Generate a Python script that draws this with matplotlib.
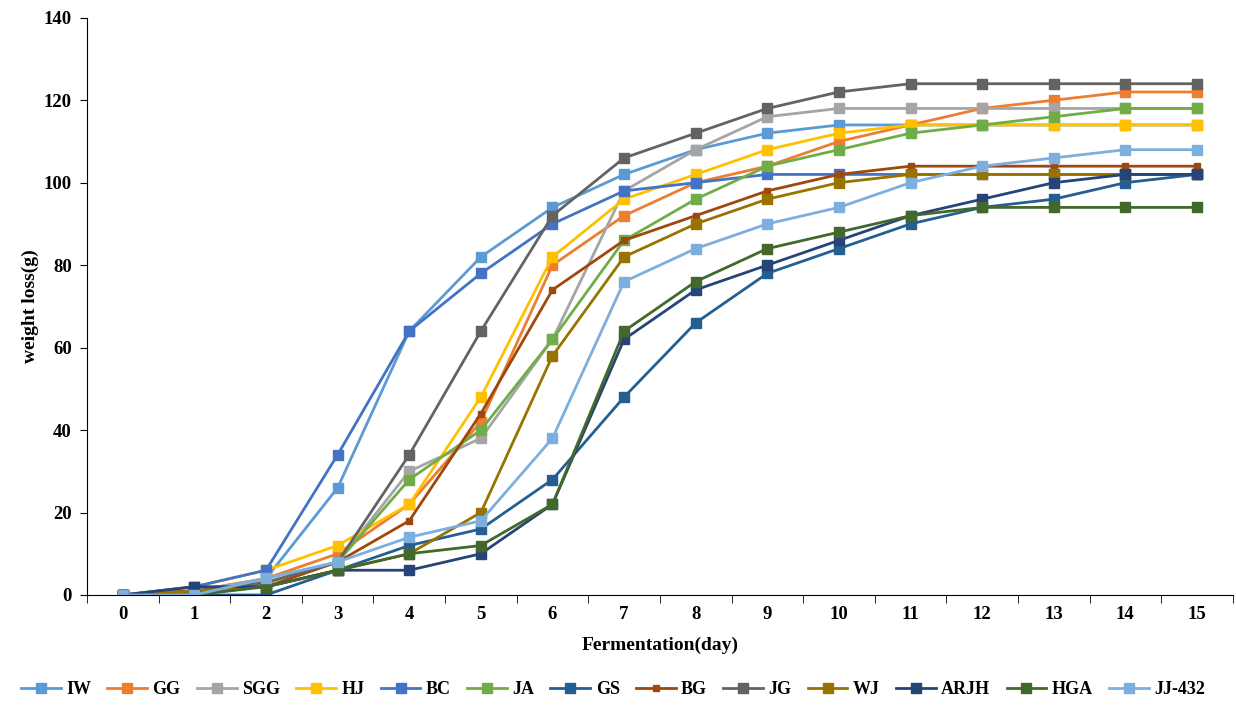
import numpy as np
import matplotlib
matplotlib.use('Agg')
import matplotlib.pyplot as plt

days = list(range(16))

names = ['IW', 'GG', 'SGG', 'HJ', 'BC', 'JA', 'GS', 'BG', 'JG', 'WJ', 'ARJH', 'HGA', 'JJ-432']
colors = ['#5B9BD5', '#ED7D31', '#A5A5A5', '#FFC000', '#4472C4', '#70AD47', '#255E91',
          '#9E480E', '#636363', '#997300', '#264478', '#43682B', '#7CAFDD']

iw = [0, 0, 4, 26, 64, 82, 94, 102, 108, 112, 114, 114, 114, 114, 114, 114]
gg = [0, 1, 4, 10, 22, 42, 80, 92, 100, 104, 110, 114, 118, 120, 122, 122]
sgg = [0, 1, 4, 8, 30, 38, 62, 98, 108, 116, 118, 118, 118, 118, 118, 118]
hj = [0, 2, 6, 12, 22, 48, 82, 96, 102, 108, 112, 114, 114, 114, 114, 114]
bc = [0, 2, 6, 34, 64, 78, 90, 98, 100, 102, 102, 102, 102, 102, 102, 102]
ja = [0, 0, 3, 8, 28, 40, 62, 86, 96, 104, 108, 112, 114, 116, 118, 118]
gs = [0, 0, 0, 6, 12, 16, 28, 48, 66, 78, 84, 90, 94, 96, 100, 102]
bg = [0, 1, 2, 8, 18, 44, 74, 86, 92, 98, 102, 104, 104, 104, 104, 104]
jg = [0, 1, 3, 8, 34, 64, 92, 106, 112, 118, 122, 124, 124, 124, 124, 124]
wj = [0, 1, 2, 6, 10, 20, 58, 82, 90, 96, 100, 102, 102, 102, 102, 102]
arjh = [0, 2, 2, 6, 6, 10, 22, 62, 74, 80, 86, 92, 96, 100, 102, 102]
hga = [0, 0, 2, 6, 10, 12, 22, 64, 76, 84, 88, 92, 94, 94, 94, 94]
jj432 = [0, 0, 4, 8, 14, 18, 38, 76, 84, 90, 94, 100, 104, 106, 108, 108]

series = [iw, gg, sgg, hj, bc, ja, gs, bg, jg, wj, arjh, hga, jj432]

plt.rcParams['font.family'] = ['Liberation Serif', 'DejaVu Serif']
plt.rcParams['font.weight'] = 'bold'

fig = plt.figure(figsize=(12.36, 7.10), dpi=100)
ax = fig.add_axes([0.0704, 0.162, 0.927, 0.813])

for name, col, vals in zip(names, colors, series):
    ms = 4 if name == 'BG' else 6.5
    ax.plot(days, vals, color=col, lw=2.0, marker='s', ms=ms, label=name)

ax.set_xlim(-0.5, 15.5)
ax.set_ylim(0, 140)
ax.set_yticks(range(0, 141, 20))
ax.set_xticks(days)
ax.set_xticks(np.arange(-0.5, 15.6, 1), minor=True)
ax.tick_params(axis='x', which='major', length=0, labelsize=13.5, pad=8)
ax.tick_params(axis='x', which='minor', length=6, direction='out')
ax.tick_params(axis='y', length=5, direction='out', labelsize=13.5, pad=6)
for lab in ax.get_xticklabels() + ax.get_yticklabels():
    lab.set_fontweight('bold')

ax.spines['top'].set_visible(False)
ax.spines['right'].set_visible(False)

ax.set_xlabel('Fermentation(day)', fontsize=14, fontweight='bold', labelpad=10)
ax.set_ylabel('weight loss(g)', fontsize=14, fontweight='bold', labelpad=3)

fig.legend(loc='lower center', bbox_to_anchor=(0.496, -0.006), ncol=13, frameon=False,
           fontsize=13, handlelength=2.2, columnspacing=0.9, handletextpad=0.3)

fig.savefig('out.png', dpi=100)
